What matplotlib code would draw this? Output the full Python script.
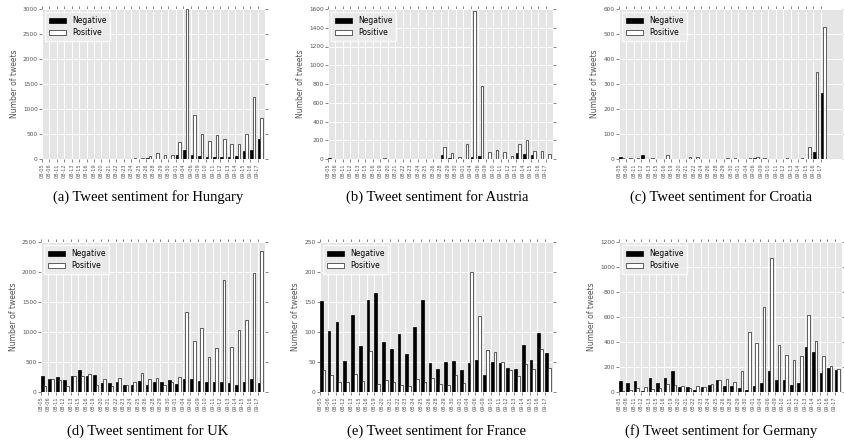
import matplotlib
matplotlib.use('Agg')
import numpy as np
import matplotlib.pyplot as plt

dates = ['08-05', '08-06', '08-11', '08-12', '08-13', '08-15', '08-16', '08-19', '08-20', '08-21',
         '08-22', '08-23', '08-24', '08-25', '08-26', '08-28', '08-29', '08-30', '09-01', '09-04',
         '09-06', '09-09', '09-10', '09-11', '09-12', '09-13', '09-14', '09-15', '09-16', '09-17']
dates_croatia = ['08-05', '08-06', '08-11', '08-12', '08-13', '08-15', '08-16', '08-19', '08-20', '08-21',
                 '08-22', '08-24', '08-26', '08-28', '08-29', '08-30', '09-01', '09-04', '09-06', '09-09',
                 '09-10', '09-11', '09-12', '09-13', '09-14', '09-15', '09-16', '09-17']

hungary_neg = [0, 0, 0, 0, 0, 0, 0, 0, 0, 0, 0, 0, 3, 5, 30, 5, 3, 5, 80, 180,
               80, 60, 40, 50, 40, 40, 70, 160, 180, 400]
hungary_pos = [1, 1, 2, 1, 1, 1, 2, 1, 2, 1, 1, 5, 20, 30, 70, 120, 80, 90, 350, 3000,
               880, 500, 370, 480, 400, 300, 310, 500, 1240, 830]

austria_neg = [10, 0, 0, 0, 0, 0, 0, 0, 0, 0, 0, 0, 0, 0, 0, 40, 10, 0, 5, 20,
               30, 0, 3, 5, 0, 65, 55, 40, 5, 0]
austria_pos = [3, 3, 1, 1, 1, 1, 1, 10, 2, 2, 1, 1, 1, 1, 2, 130, 60, 25, 160, 1580,
               780, 70, 95, 80, 30, 165, 200, 85, 90, 55]

croatia_neg = [10, 0, 0, 18, 2, 0, 0, 0, 0, 0, 0, 0, 0, 0, 0, 0, 0, 2, 5, 0,
               0, 0, 0, 0, 0, 0, 28, 265]
croatia_pos = [5, 3, 3, 2, 3, 2, 15, 1, 1, 8, 7, 1, 1, 1, 4, 5, 2, 4, 8, 3,
               1, 1, 3, 2, 4, 50, 350, 530]

uk_neg = [260, 225, 250, 205, 265, 370, 265, 285, 155, 150, 175, 120, 120, 185, 120, 165, 170, 200, 135, 215,
          210, 185, 175, 160, 160, 150, 120, 165, 215, 150]
uk_pos = [95, 215, 195, 95, 265, 265, 295, 115, 215, 100, 230, 120, 160, 315, 215, 235, 115, 165, 245, 1340,
          850, 1070, 590, 735, 1870, 755, 1040, 1200, 1990, 2350]

france_neg = [152, 102, 117, 52, 128, 76, 154, 165, 84, 71, 97, 64, 108, 153, 49, 38, 50, 51, 37, 49,
              54, 28, 50, 48, 40, 38, 79, 53, 99, 65]
france_pos = [37, 29, 16, 17, 30, 19, 68, 14, 20, 16, 12, 10, 22, 16, 24, 13, 11, 29, 15, 200,
              126, 70, 67, 50, 36, 26, 47, 38, 72, 40]

germany_neg = [85, 70, 90, 10, 110, 75, 115, 170, 40, 40, 15, 40, 55, 95, 45, 45, 30, 15, 45, 75,
               165, 95, 95, 60, 70, 360, 320, 155, 195, 175]
germany_pos = [10, 20, 30, 40, 25, 30, 65, 60, 45, 35, 50, 40, 65, 100, 105, 80, 170, 480, 395, 680,
               1075, 375, 300, 255, 285, 620, 410, 290, 205, 185]

W, H = 845, 441
GRAY = '#555555'


def px_rect(left, top, right, bottom):
    return [left / W, 1 - bottom / H, (right - left) / W, (bottom - top) / H]


def draw_panel(fig, rect, labels, neg, pos, ymax, ystep, caption, cap_x, cap_y):
    ax = fig.add_axes(rect)
    ax.set_facecolor('#E5E5E5')
    ind = np.arange(len(labels))
    w = 0.35
    ax.bar(ind, neg, w, align='edge', color='black', edgecolor='black', linewidth=0.5, label='Negative')
    ax.bar(ind + w, pos, w, align='edge', color='white', edgecolor='#222222', linewidth=0.5, label='Positive')
    ax.set_xlim(0, 30)
    ax.set_ylim(0, ymax)
    ax.set_xticks(ind)
    ax.set_xticklabels(labels, rotation=90)
    ax.set_yticks(np.arange(0, ymax + 1, ystep))
    ax.set_axisbelow(True)
    ax.grid(True, color='white', linewidth=0.7)
    for s in ax.spines.values():
        s.set_visible(False)
    ax.tick_params(axis='both', direction='out', length=2, width=0.5, color=GRAY,
                   top=True, right=True, labelcolor=GRAY)
    ax.tick_params(axis='x', labelsize=3.6, pad=1)
    ax.tick_params(axis='y', labelsize=4.2, pad=1)
    ax.set_ylabel('Number of tweets', fontsize=5.5, color=GRAY, labelpad=3)
    leg = ax.legend(loc='upper left', fontsize=5.5, frameon=True, fancybox=False,
                    handlelength=2.2, borderaxespad=0.4, borderpad=0.5, labelspacing=0.4)
    leg.get_frame().set_facecolor('#EBEBEB')
    leg.get_frame().set_edgecolor('white')
    fig.text(cap_x / W, 1 - cap_y / H, caption, ha='center', va='center',
             family='Liberation Serif', fontsize=10.5)
    return ax


fig = plt.figure(figsize=(W / 100, H / 100), dpi=100)

draw_panel(fig, px_rect(42, 9, 265, 159), dates, hungary_neg, hungary_pos, 3000, 500,
           '(a) Tweet sentiment for Hungary', 148, 197)
draw_panel(fig, px_rect(328, 9, 553, 159), dates, austria_neg, austria_pos, 1600, 200,
           '(b) Tweet sentiment for Austria', 437, 197)
draw_panel(fig, px_rect(619, 9, 843, 159), dates_croatia, croatia_neg, croatia_pos, 600, 100,
           '(c) Tweet sentiment for Croatia', 721, 197)
draw_panel(fig, px_rect(41, 242, 265, 392), dates, uk_neg, uk_pos, 2500, 500,
           '(d) Tweet sentiment for UK', 148, 431)
draw_panel(fig, px_rect(320, 242, 553, 392), dates, france_neg, france_pos, 250, 50,
           '(e) Tweet sentiment for France', 437, 431)
draw_panel(fig, px_rect(619, 242, 842, 392), dates, germany_neg, germany_pos, 1200, 200,
           '(f) Tweet sentiment for Germany', 721, 431)

fig.savefig('out.png', dpi=100, facecolor='white')
